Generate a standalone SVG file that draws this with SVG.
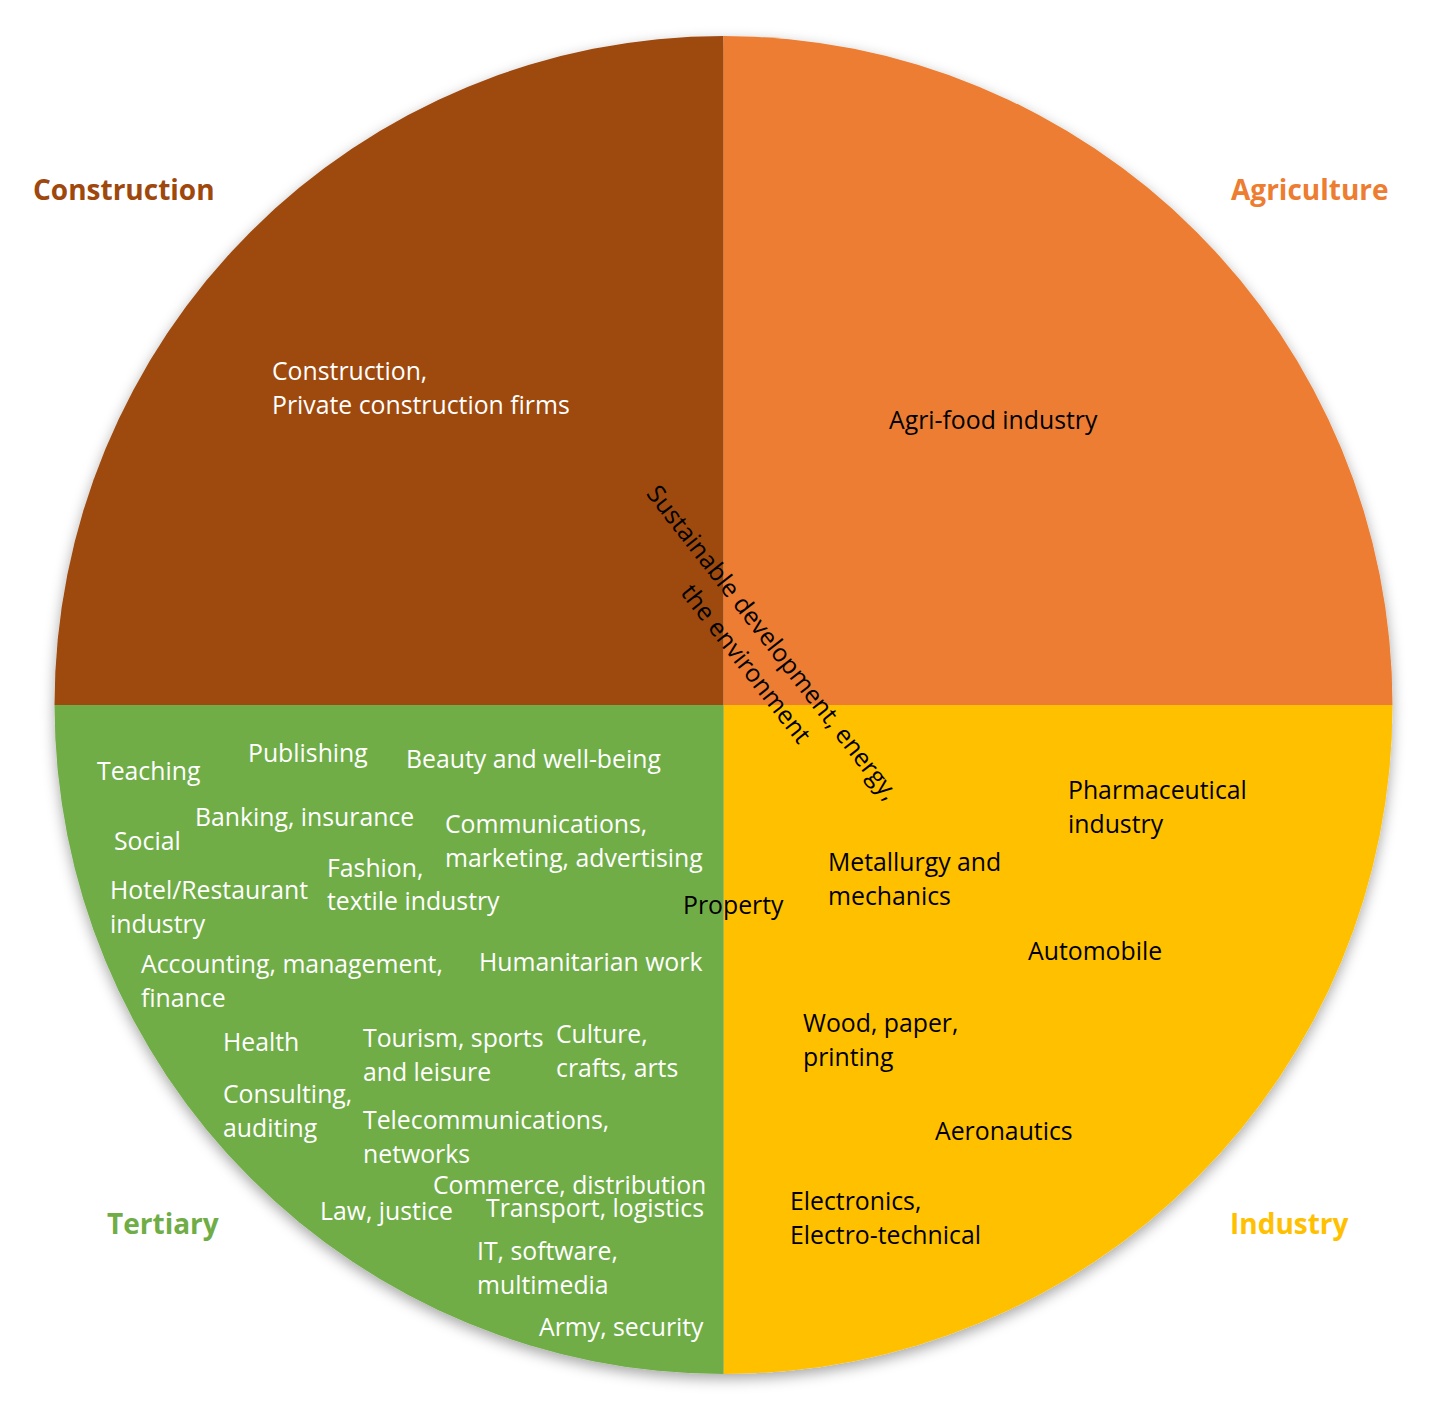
<svg xmlns="http://www.w3.org/2000/svg" width="1441" height="1405" viewBox="0 0 1441 1405">
<defs>
<filter id="sh" x="-10%" y="-10%" width="120%" height="120%">
<feDropShadow dx="0" dy="5" stdDeviation="7" flood-color="#000" flood-opacity="0.35"/>
</filter>
<style>
text{font-family:"Open Sans","Liberation Sans",sans-serif;font-size:24.8px}
.w{fill:#fff}
.k{fill:#000}
.t{font-weight:bold;font-size:28px}
</style>
</defs>
<rect width="1441" height="1405" fill="#fff"/>
<g id="pie" filter="url(#sh)">
<path id="construction" d="M723.5,705 L54.5,705 A669,669 0 0 1 723.5,36 Z" fill="#9E480E"/>
<path id="agriculture" d="M723.5,705 L723.5,36 A669,669 0 0 1 1392.5,705 Z" fill="#ED7D31"/>
<path id="industry" d="M723.5,705 L1392.5,705 A669,669 0 0 1 723.5,1374 Z" fill="#FFC000"/>
<path id="tertiary" d="M723.5,705 L723.5,1374 A669,669 0 0 1 54.5,705 Z" fill="#70AD47"/>
</g>
<g id="titles">
<text class="t" x="33" y="200" fill="#9E480E">Construction</text>
<text class="t" x="1231" y="200" fill="#ED7D31">Agriculture</text>
<text class="t" x="107" y="1234" fill="#70AD47">Tertiary</text>
<text class="t" x="1230" y="1234" fill="#FFC000">Industry</text>
</g>
<g id="construction-labels" class="w">
<text x="272" y="380">Construction,</text>
<text x="272" y="414">Private construction firms</text>
</g>
<g id="agriculture-labels" class="k">
<text x="889" y="429">Agri-food industry</text>
</g>
<g id="tertiary-labels" class="w">
<text x="97" y="780">Teaching</text>
<text x="248" y="762">Publishing</text>
<text x="406" y="768">Beauty and well-being</text>
<text x="195" y="826">Banking, insurance</text>
<text x="114" y="850">Social</text>
<text x="445" y="833">Communications,</text>
<text x="445" y="867">marketing, advertising</text>
<text x="327" y="877">Fashion,</text>
<text x="327" y="910">textile industry</text>
<text x="110" y="899">Hotel/Restaurant</text>
<text x="110" y="933">industry</text>
<text x="141" y="973">Accounting, management,</text>
<text x="141" y="1007">finance</text>
<text x="479" y="971">Humanitarian work</text>
<text x="223" y="1051">Health</text>
<text x="363" y="1047">Tourism, sports</text>
<text x="363" y="1081">and leisure</text>
<text x="556" y="1043">Culture,</text>
<text x="556" y="1077">crafts, arts</text>
<text x="223" y="1103">Consulting,</text>
<text x="223" y="1137">auditing</text>
<text x="363" y="1129">Telecommunications,</text>
<text x="363" y="1163">networks</text>
<text x="433" y="1194">Commerce, distribution</text>
<text x="320" y="1220">Law, justice</text>
<text x="486" y="1217">Transport, logistics</text>
<text x="477" y="1260">IT, software,</text>
<text x="477" y="1294">multimedia</text>
<text x="539" y="1336">Army, security</text>
</g>
<g id="industry-labels" class="k">
<text x="683" y="914">Property</text>
<text x="1068" y="799">Pharmaceutical</text>
<text x="1068" y="833">industry</text>
<text x="828" y="871">Metallurgy and</text>
<text x="828" y="905">mechanics</text>
<text x="1028" y="960">Automobile</text>
<text x="803" y="1032">Wood, paper,</text>
<text x="803" y="1066">printing</text>
<text x="935" y="1140">Aeronautics</text>
<text x="790" y="1210">Electronics,</text>
<text x="790" y="1244">Electro-technical</text>
</g>
<g id="center-label" class="k">
<text transform="translate(766,648) rotate(52)" text-anchor="middle"><tspan x="0" y="0">Sustainable development, energy,</tspan><tspan x="0" y="34">the environment</tspan></text>
</g>
</svg>
